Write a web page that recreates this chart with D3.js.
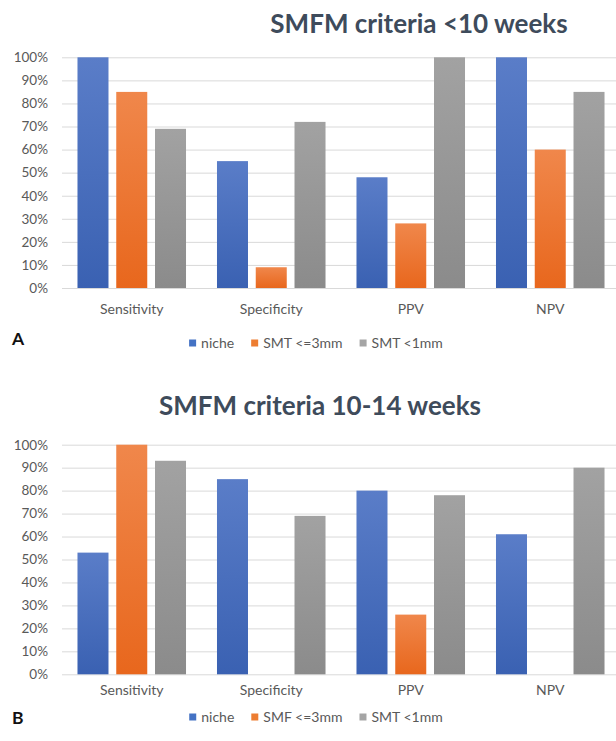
<!DOCTYPE html>
<html>
<head>
<meta charset="utf-8">
<script src="https://cdn.jsdelivr.net/npm/d3@7"></script>
<style>
  html, body { margin: 0; padding: 0; background: #ffffff; }
  svg { display: block; }
  text { font-family: "Lato", "Open Sans", sans-serif; }
</style>
</head>
<body>
<svg id="chart" width="616" height="741"></svg>
<script>
// ---- Data ----
const categories = ["Sensitivity", "Specificity", "PPV", "NPV"];
const yTicks = [0, 10, 20, 30, 40, 50, 60, 70, 80, 90, 100];

// Panel A
const titleA = "SMFM criteria <10 weeks";
const seriesNamesA = ["niche", "SMT <=3mm", "SMT <1mm"];
const nicheA = [100, 55, 48, 100];
const smt3A = [85, 9, 28, 60];
const smt1A = [69, 72, 100, 85];

// Panel B
const titleB = "SMFM criteria 10-14 weeks";
const seriesNamesB = ["niche", "SMF <=3mm", "SMT <1mm"];
const nicheB = [53, 85, 80, 61];
const smf3B = [100, 0, 26, 0];
const smt1B = [93, 69, 78, 90];

const colors = [
  { id: "gBlue", top: "#5a7dc8", bottom: "#3a61b2", solid: "#4472c4" },
  { id: "gOrange", top: "#f0874b", bottom: "#e8671d", solid: "#ed7d31" },
  { id: "gGray", top: "#a2a2a2", bottom: "#8b8b8b", solid: "#a5a5a5" }
];

const svg = d3.select("#chart");
const defs = svg.append("defs");
colors.forEach(c => {
  const g = defs.append("linearGradient").attr("id", c.id)
    .attr("x1", 0).attr("y1", 0).attr("x2", 0).attr("y2", 1);
  g.append("stop").attr("offset", "0%").attr("stop-color", c.top);
  g.append("stop").attr("offset", "100%").attr("stop-color", c.bottom);
});

function drawPanel(cfg) {
  const left = 62, right = 620;
  const x0 = d3.scaleBand().domain(categories).range([left, right])
    .paddingInner(0.222).paddingOuter(0.111);
  const x1 = d3.scaleBand().domain(d3.range(3)).range([0, x0.bandwidth()])
    .paddingInner(0.2).paddingOuter(0);
  const y = d3.scaleLinear().domain([0, 100]).range([cfg.yBottom, cfg.yTop]);

  const g = svg.append("g");

  // title
  g.append("text")
    .attr("x", cfg.titleX).attr("y", cfg.titleY)
    .attr("text-anchor", "middle")
    .attr("font-size", 26).attr("font-weight", 700)
    .attr("fill", "#3e4b5b")
    .text(cfg.title);

  // y axis with gridlines
  const axis = d3.axisLeft(y).tickValues(yTicks)
    .tickSize(-(616 - left)).tickPadding(14)
    .tickFormat(d => d + "%");
  const ax = g.append("g").attr("transform", `translate(${left},0)`).call(axis);
  ax.select(".domain").remove();
  ax.selectAll(".tick line").attr("stroke", "#d9d9d9").attr("stroke-width", 1);
  ax.selectAll(".tick text").attr("fill", "#595959").attr("font-size", 13.5)
    .attr("font-family", "Lato, 'Open Sans', sans-serif");

  // bars
  const series = [cfg.s0, cfg.s1, cfg.s2];
  series.forEach((vals, si) => {
    g.append("g").selectAll("rect")
      .data(categories.map((c, i) => ({ c, v: vals[i] })))
      .join("rect")
      .attr("x", d => x0(d.c) + x1(si))
      .attr("width", x1.bandwidth())
      .attr("y", d => y(d.v))
      .attr("height", d => y(0) - y(d.v))
      .attr("fill", `url(#${colors[si].id})`);
  });

  // category labels
  g.append("g").selectAll("text")
    .data(categories).join("text")
    .attr("x", d => x0(d) + x0.bandwidth() / 2)
    .attr("y", cfg.catY)
    .attr("text-anchor", "middle")
    .attr("font-size", 14).attr("fill", "#595959")
    .text(d => d);

  // legend
  const lg = g.append("g");
  let cx = 0;
  cfg.names.forEach((name, i) => {
    const item = lg.append("g").attr("transform", `translate(${cx},0)`);
    item.append("rect").attr("x", 0).attr("y", -8.5).attr("width", 7).attr("height", 7)
      .attr("fill", colors[i].solid);
    const t = item.append("text").attr("x", 12).attr("y", 0)
      .attr("font-size", 14).attr("fill", "#595959").text(name);
    cx += 12 + t.node().getComputedTextLength() + 17;
  });
  const totalW = cx - 17;
  lg.attr("transform", `translate(${cfg.legendCX - totalW / 2},${cfg.legendY})`);

  // panel letter
  g.append("text").attr("x", 12).attr("y", cfg.letterY)
    .attr("font-size", 17.5).attr("font-weight", 700).attr("fill", "#111")
    .attr("font-family", "Liberation Sans, Arial, sans-serif")
    .text(cfg.letter);
}

drawPanel({
  title: titleA, titleX: 419, titleY: 33,
  yTop: 57.3, yBottom: 288,
  s0: nicheA, s1: smt3A, s2: smt1A, names: seriesNamesA,
  catY: 314, legendY: 348, legendCX: 316, letter: "A", letterY: 345
});

drawPanel({
  title: titleB, titleX: 320, titleY: 415,
  yTop: 444.7, yBottom: 674.3,
  s0: nicheB, s1: smf3B, s2: smt1B, names: seriesNamesB,
  catY: 695, legendY: 722, legendCX: 316, letter: "B", letterY: 724
});
</script>
</body>
</html>
